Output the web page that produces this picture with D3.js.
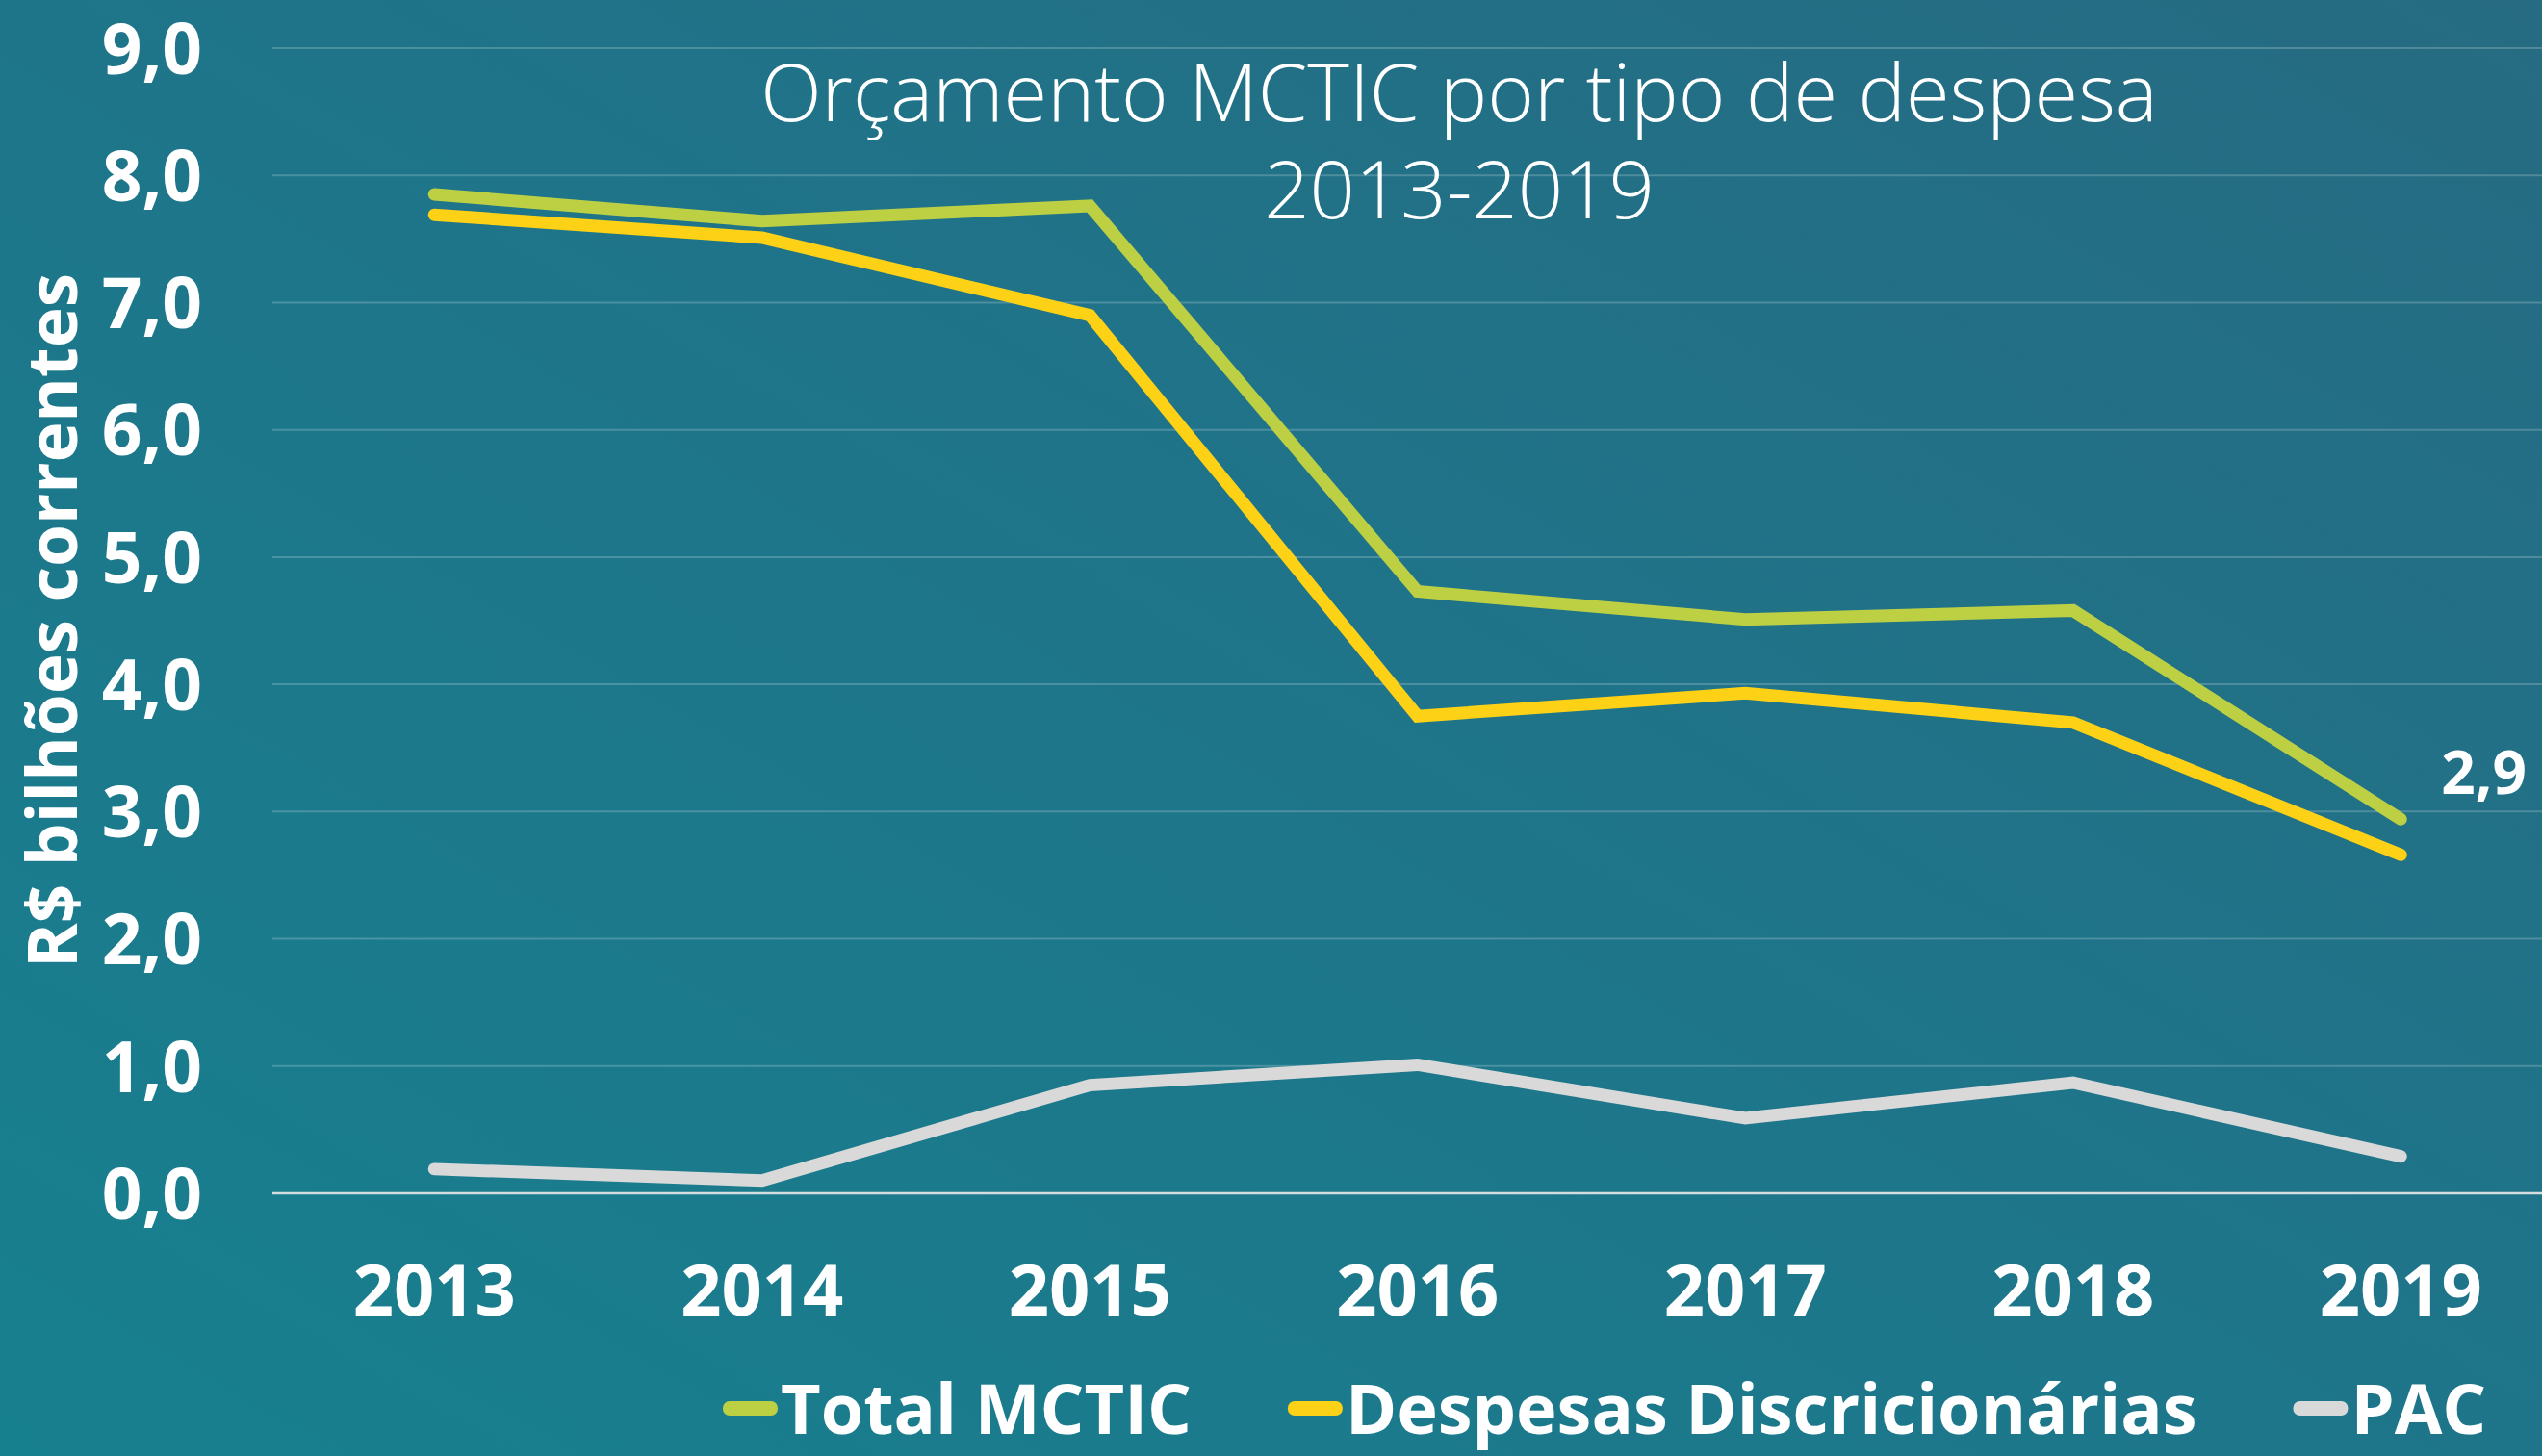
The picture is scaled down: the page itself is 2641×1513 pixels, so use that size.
<!DOCTYPE html>
<html>
<head>
<meta charset="utf-8">
<script src="https://cdn.jsdelivr.net/npm/d3@7"></script>
<style>
  html, body { margin: 0; padding: 0; background: #1d7386; }
  svg { display: block; }
</style>
</head>
<body>
<div id="app"></div>
<script>
const W = 2641, H = 1513

// data
const years = ['2013', '2014', '2015', '2016', '2017', '2018', '2019']
const totalMCTIC = [7.85, 7.64, 7.76, 4.73, 4.51, 4.58, 2.94]
const despesasDiscricionarias = [7.69, 7.51, 6.90, 3.75, 3.93, 3.70, 2.66]
const pac = [0.19, 0.10, 0.85, 1.01, 0.59, 0.87, 0.29]
const yTicks = [0, 1, 2, 3, 4, 5, 6, 7, 8, 9]
const seriesNames = ['Total MCTIC', 'Despesas Discricionárias', 'PAC']
const seriesColors = ['#bdd044', '#fcd116', '#d9d9d9']
const titleLines = ['Orçamento MCTIC por tipo de despesa', '2013-2019']
const yTitle = 'R$ bilhões correntes'

const series = [totalMCTIC, despesasDiscricionarias, pac].map((vals, i) => ({
    name: seriesNames[i],
    color: seriesColors[i],
    values: vals.map((v, j) => ({ year: years[j], value: v }))
}))

const ptBR = d3.formatLocale({ decimal: ',', thousands: '.', grouping: [3], currency: ['R$', ''] })
const fmt = ptBR.format('.1f')
const FONT = '"Open Sans", Lato, sans-serif'

const svg = d3.select('#app').append('svg')
    .attr('width', W)
    .attr('height', H)

// background gradient
const defs = svg.append('defs')
const grad = defs.append('linearGradient')
    .attr('id', 'bg')
    .attr('x1', '0%').attr('y1', '100%')
    .attr('x2', '100%').attr('y2', '0%')
grad.append('stop').attr('offset', '0%').attr('stop-color', '#17808f')
grad.append('stop').attr('offset', '55%').attr('stop-color', '#1f7489')
grad.append('stop').attr('offset', '100%').attr('stop-color', '#266b82')
svg.append('rect').attr('width', W).attr('height', H).attr('fill', 'url(#bg)')

const x = d3.scaleBand()
    .domain(years)
    .range([281, 281 + 7 * 340.5])

const y = d3.scaleLinear()
    .domain([0, 9])
    .range([1240, 50])

// grid
svg.append('g')
    .selectAll('line')
    .data(yTicks.filter(d => d > 0))
    .join('line')
    .attr('x1', 283).attr('x2', W)
    .attr('y1', d => y(d)).attr('y2', d => y(d))
    .attr('stroke', 'rgba(255,255,255,0.2)')
    .attr('stroke-width', 2)

svg.append('line')
    .attr('x1', 283).attr('x2', W)
    .attr('y1', y(0)).attr('y2', y(0))
    .attr('stroke', '#d5dde0')
    .attr('stroke-width', 2.5)

// y axis labels
const yAxis = g => g
    .attr('transform', 'translate(210,0)')
    .call(d3.axisLeft(y).tickValues(yTicks).tickFormat(fmt).tickSize(0).tickPadding(0))
    .call(g => g.select('.domain').remove())
    .call(g => g.selectAll('text')
        .attr('fill', '#fff')
        .attr('font-size', 73)
        .attr('font-weight', 700)
        .attr('font-family', FONT)
        .attr('dy', '0.36em'))
svg.append('g').call(yAxis)

// x axis labels
const xAxis = g => g
    .attr('transform', 'translate(0,1312)')
    .call(d3.axisBottom(x).tickSize(0).tickPadding(0))
    .call(g => g.select('.domain').remove())
    .call(g => g.selectAll('text')
        .attr('fill', '#fff')
        .attr('font-size', 74)
        .attr('font-weight', 700)
        .attr('font-family', FONT)
        .attr('dy', '0.74em'))
svg.append('g').call(xAxis)

// y title
svg.append('text')
    .attr('transform', 'translate(80,645) rotate(-90)')
    .attr('text-anchor', 'middle')
    .attr('fill', '#fff')
    .attr('font-size', 71)
    .attr('font-weight', 700)
    .attr('font-family', FONT)
    .text(yTitle)

// title, two lines in one text
svg.append('text')
    .attr('text-anchor', 'middle')
    .attr('fill', '#fff')
    .attr('font-size', 83)
    .attr('font-weight', 300)
    .attr('font-family', FONT)
    .selectAll('tspan')
    .data(titleLines)
    .join('tspan')
    .attr('x', 1516)
    .attr('y', (d, i) => 126 + i * 101)
    .text(d => d)

// lines
const line = d3.line()
    .x(d => x(d.year) + x.bandwidth() / 2)
    .y(d => y(d.value))

svg.append('g')
    .selectAll('path')
    .data(series.slice().reverse())
    .join('path')
    .attr('d', d => line(d.values))
    .attr('fill', 'none')
    .attr('stroke', d => d.color)
    .attr('stroke-width', 13)
    .attr('stroke-linecap', 'round')
    .attr('stroke-linejoin', 'miter')

// data label for last total value
const last = series[0].values[series[0].values.length - 1]
svg.append('text')
    .attr('x', x(last.year) + x.bandwidth() / 2 + 42)
    .attr('y', y(last.value) - 26)
    .attr('fill', '#fff')
    .attr('font-size', 62)
    .attr('font-weight', 700)
    .attr('font-family', FONT)
    .text(fmt(last.value))

// legend
const legend = svg.append('g').attr('transform', 'translate(751,1490)')
let lx = 0
series.forEach(s => {
    const g = legend.append('g').attr('transform', `translate(${lx},0)`)
    g.append('rect')
        .attr('x', 0).attr('y', -34)
        .attr('width', 57).attr('height', 15)
        .attr('rx', 7)
        .attr('fill', s.color)
    const t = g.append('text')
        .attr('x', 60)
        .attr('fill', '#fff')
        .attr('font-size', 72)
        .attr('font-weight', 700)
        .attr('font-family', FONT)
        .text(s.name)
    lx += 60 + t.node().getComputedTextLength() + 100
})
</script>
</body>
</html>
